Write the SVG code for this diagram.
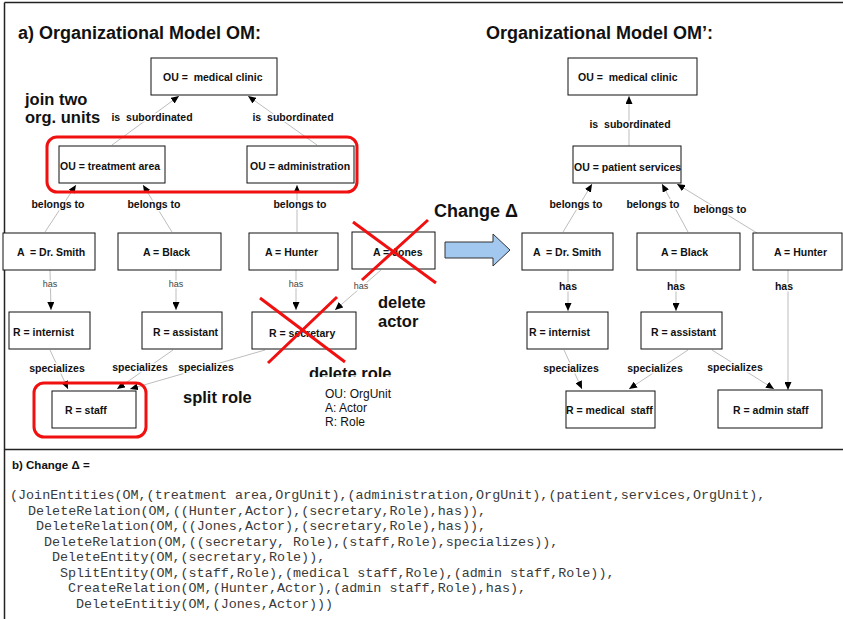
<svg xmlns="http://www.w3.org/2000/svg" width="843" height="619" viewBox="0 0 843 619">
<style>
text{font-family:"Liberation Sans",Arial,sans-serif;fill:#111}
.box{fill:#fff;stroke:#111;stroke-width:1}
.nt{font-size:10.5px;font-weight:bold}
.lab{font-size:10.5px;font-weight:bold;text-anchor:middle;stroke:#fff;stroke-width:3;paint-order:stroke;stroke-linejoin:round}
.has{font-size:9px;fill:#444;text-anchor:middle;stroke:#fff;stroke-width:3;paint-order:stroke}
.big{font-size:18px;font-weight:bold}
.ann{font-size:16.5px;font-weight:bold}
.con{stroke:#bdbdbd;stroke-width:1;fill:none;marker-end:url(#ah)}
.red{stroke:#f01010;stroke-width:3;fill:none}
.code{font-family:"Liberation Mono","Courier New",monospace;font-size:13.4px;fill:#3a3a3a}
.frame{stroke:#222;stroke-width:1.5;fill:none}
</style>
<defs>
<marker id="ah" markerUnits="userSpaceOnUse" markerWidth="8" markerHeight="7" refX="8" refY="3.5" orient="auto">
<path d="M0,0 L8,3.5 L0,7 z" fill="#000"/>
</marker>
<clipPath id="clipdr"><rect x="300" y="355" width="120" height="22"/></clipPath>
</defs>
<rect x="0" y="0" width="843" height="619" fill="#fff"/>
<g id="frame">
<path class="frame" d="M4.5,2.5 H843 M4.5,2.5 V619 M4.5,449.5 H843"/>
</g>

<g id="connectors">
<line class="con" x1="112" y1="145" x2="179" y2="96"/>
<line class="con" x1="317" y1="145" x2="248" y2="96"/>
<line class="con" x1="45" y1="232" x2="76" y2="185"/>
<line class="con" x1="172" y1="232" x2="143" y2="185"/>
<line class="con" x1="297" y1="232" x2="297" y2="185"/>
<line class="con" x1="50" y1="270" x2="51" y2="310"/>
<line class="con" x1="176" y1="270" x2="176" y2="310"/>
<line class="con" x1="296" y1="270" x2="296" y2="310"/>
<line class="con" x1="381" y1="270" x2="335" y2="310"/>
<line class="con" x1="50" y1="350" x2="68" y2="389"/>
<line class="con" x1="173" y1="350" x2="117" y2="389"/>
<line class="con" x1="265" y1="350" x2="130" y2="389"/>

<line class="con" x1="629" y1="146" x2="629" y2="96"/>
<line class="con" x1="563" y1="232" x2="592" y2="184"/>
<line class="con" x1="688" y1="232" x2="662" y2="184"/>
<line class="con" x1="757" y1="233" x2="677" y2="184"/>
<line class="con" x1="568" y1="270" x2="568" y2="311"/>
<line class="con" x1="676" y1="270" x2="676" y2="311"/>
<line class="con" x1="788" y1="270" x2="788" y2="390"/>
<line class="con" x1="564" y1="350" x2="582" y2="389"/>
<line class="con" x1="688" y1="350" x2="629" y2="389"/>
<line class="con" x1="712" y1="350" x2="774" y2="389"/>

<text class="lab" x="152" y="121" xml:space="preserve">is  subordinated</text>
<text class="lab" x="293" y="121" xml:space="preserve">is  subordinated</text>
<text class="lab" x="58" y="208">belongs to</text>
<text class="lab" x="154" y="208">belongs to</text>
<text class="lab" x="300" y="208">belongs to</text>
<text class="has" x="50" y="287">has</text>
<text class="has" x="176" y="287">has</text>
<text class="has" x="296" y="287">has</text>
<text class="has" x="361" y="289">has</text>
<text class="lab" x="57" y="372">specializes</text>
<text class="lab" x="140" y="371">specializes</text>
<text class="lab" x="206" y="371">specializes</text>

<text class="lab" x="630" y="128" xml:space="preserve">is  subordinated</text>
<text class="lab" x="576" y="208">belongs to</text>
<text class="lab" x="653" y="208">belongs to</text>
<text class="lab" x="720" y="213">belongs to</text>
<text class="lab" x="568" y="290">has</text>
<text class="lab" x="676" y="290">has</text>
<text class="lab" x="784" y="290">has</text>
<text class="lab" x="571" y="372">specializes</text>
<text class="lab" x="655" y="372">specializes</text>
<text class="lab" x="735" y="371">specializes</text>
</g>

<!-- left model -->
<g id="n-clinic"><rect class="box" x="151" y="58" width="126" height="37"/><text class="nt" x="163" y="81" xml:space="preserve">OU =  medical clinic</text></g>
<g id="n-treatment"><rect class="box" x="59" y="146" width="106" height="37"/><text class="nt" x="60" y="169.5">OU = treatment area</text></g>
<g id="n-admin"><rect class="box" x="247" y="146" width="107" height="37"/><text class="nt" x="250" y="169.5">OU = administration</text></g>
<g id="n-smith"><rect class="box" x="3" y="233" width="92" height="37"/><text class="nt" x="17" y="256" xml:space="preserve">A  = Dr. Smith</text></g>
<g id="n-black"><rect class="box" x="118" y="233" width="103" height="37"/><text class="nt" x="143" y="256">A = Black</text></g>
<g id="n-hunter"><rect class="box" x="249" y="233" width="89" height="37"/><text class="nt" x="265" y="256">A = Hunter</text></g>
<g id="n-jones"><rect class="box" x="352" y="232" width="83" height="37"/><text class="nt" x="373" y="255.5">A = Jones</text></g>
<g id="n-internist"><rect class="box" x="9" y="312" width="81" height="37"/><text class="nt" x="13" y="335.5">R = internist</text></g>
<g id="n-assistant"><rect class="box" x="142" y="312" width="80" height="37"/><text class="nt" x="153" y="335.5">R = assistant</text></g>
<g id="n-secretary"><rect class="box" x="252" y="312" width="104" height="37"/><text class="nt" x="269" y="337">R = secretary</text></g>
<g id="n-staff"><rect class="box" x="52" y="391" width="84" height="37"/><text class="nt" x="65" y="414">R = staff</text></g>

<!-- right model -->
<g id="r-clinic"><rect class="box" x="568" y="58" width="129" height="37"/><text class="nt" x="578" y="81" xml:space="preserve">OU =  medical clinic</text></g>
<g id="r-patient"><rect class="box" x="573" y="146" width="108" height="37"/><text class="nt" x="574" y="170.5">OU = patient services</text></g>
<g id="r-smith"><rect class="box" x="522" y="233" width="91" height="37"/><text class="nt" x="533" y="256" xml:space="preserve">A  = Dr. Smith</text></g>
<g id="r-black"><rect class="box" x="637" y="233" width="103" height="37"/><text class="nt" x="661" y="256">A = Black</text></g>
<g id="r-hunter"><rect class="box" x="753" y="233" width="89" height="37"/><text class="nt" x="774" y="256">A = Hunter</text></g>
<g id="r-internist"><rect class="box" x="527" y="312" width="81" height="37"/><text class="nt" x="529" y="335.5">R = internist</text></g>
<g id="r-assistant"><rect class="box" x="641" y="312" width="81" height="37"/><text class="nt" x="651" y="335.5">R = assistant</text></g>
<g id="r-medstaff"><rect class="box" x="566" y="391" width="89" height="37"/><text class="nt" x="566" y="414" xml:space="preserve">R = medical  staff</text></g>
<g id="r-adminstaff"><rect class="box" x="718" y="390" width="104" height="38"/><text class="nt" x="733" y="414">R = admin staff</text></g>

<!-- annotations -->
<g id="annotations">
<text class="big" x="18" y="39">a) Organizational Model OM:</text>
<text class="big" x="486" y="39">Organizational Model OM’:</text>
<text class="ann" x="25" y="105">join two</text>
<text class="ann" x="25" y="123">org. units</text>
<rect class="red" x="47" y="137" width="310" height="55" rx="10"/>
<rect class="red" x="34" y="383" width="112" height="54" rx="10"/>
<path class="red" d="M353,222 L436,283 M428,220 L362,280"/>
<path class="red" d="M260,298 L345,362 M337,297 L268,363"/>
<text class="ann" x="378" y="308">delete</text>
<text class="ann" x="378" y="327">actor</text>
<text class="ann" x="309" y="379" clip-path="url(#clipdr)">delete role</text>
<text class="ann" x="183" y="403">split role</text>
<text x="325" y="398" style="font-size:12px">OU: OrgUnit</text>
<text x="325" y="412" style="font-size:12px">A: Actor</text>
<text x="325" y="426" style="font-size:12px">R: Role</text>
<text class="big" x="434" y="217">Change Δ</text>
<polygon points="445,242 493,242 493,234 510,250 493,266 493,258 445,258" fill="#a3c8ef" stroke="#333" stroke-width="1"/>
</g>

<!-- part b -->
<g id="change-text">
<text x="12" y="469" style="font-size:11.5px;font-weight:bold">b) Change Δ =</text>
<text class="code" x="10" y="499">(JoinEntities(OM,(treatment area,OrgUnit),(administration,OrgUnit),(patient,services,OrgUnit),</text>
<text class="code" x="28" y="514.5">DeleteRelation(OM,((Hunter,Actor),(secretary,Role),has)),</text>
<text class="code" x="36" y="530">DeleteRelation(OM,((Jones,Actor),(secretary,Role),has)),</text>
<text class="code" x="44" y="545.5">DeleteRelation(OM,((secretary, Role),(staff,Role),specializes)),</text>
<text class="code" x="52" y="561">DeleteEntity(OM,(secretary,Role)),</text>
<text class="code" x="60" y="576.5">SplitEntity(OM,(staff,Role),(medical staff,Role),(admin staff,Role)),</text>
<text class="code" x="68" y="592">CreateRelation(OM,(Hunter,Actor),(admin staff,Role),has),</text>
<text class="code" x="76" y="607.5">DeleteEntitiy(OM,(Jones,Actor)))</text>
</g>
</svg>
